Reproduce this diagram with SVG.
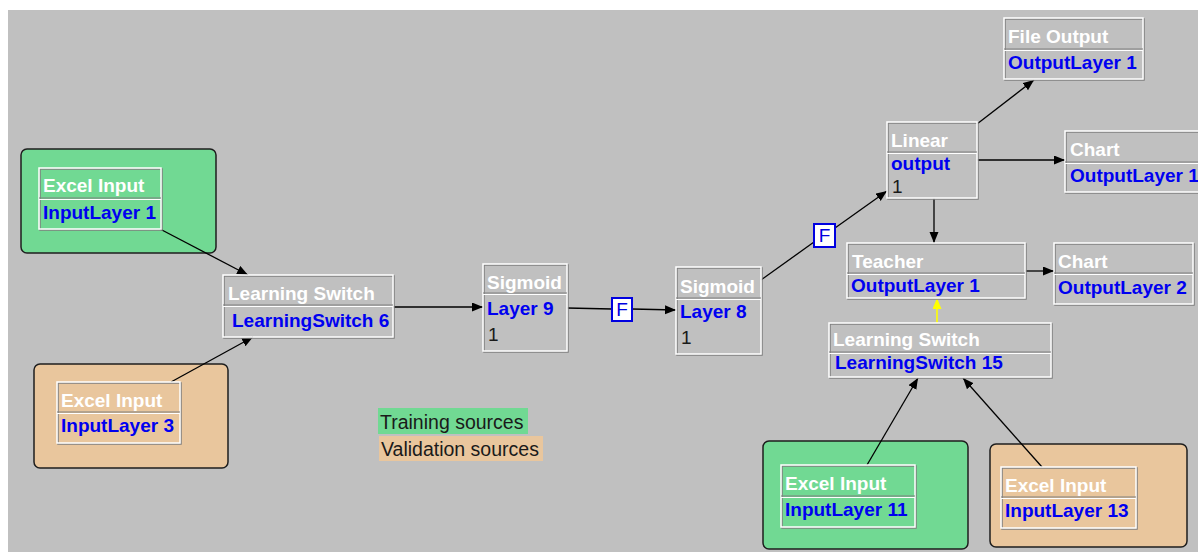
<svg xmlns="http://www.w3.org/2000/svg" width="1198" height="552" viewBox="0 0 1198 552">
  <style>
    text { font-family: "Liberation Sans", Arial, sans-serif; }
    .canvas { fill: #c0c0c0; }
    .train { fill: #71d993; stroke: #1e1e1e; stroke-width: 1.5; }
    .valid { fill: #e9c69d; stroke: #1e1e1e; stroke-width: 1.5; }
    .face { fill: none; stroke: #ffffff; stroke-width: 1.5; }
    .shadow { fill: none; stroke: #7f7f7f; stroke-width: 1.5; }
    .sep-d { stroke: #7f7f7f; stroke-width: 1.2; }
    .sep-l { stroke: #ffffff; stroke-width: 1.2; }
    .title { fill: #ffffff; font-size: 19px; font-weight: bold; }
    .name { fill: #0000f0; font-size: 19px; font-weight: bold; }
    .num { fill: #1a1a1a; font-size: 19px; }
    .legend { fill: #1a1a1a; font-size: 19.5px; }
    .wire { fill: none; stroke: #000000; stroke-width: 1.3; }
    .wire-y { fill: none; stroke: #ffff00; stroke-width: 1.6; }
    .fbox { fill: #ffffff; stroke: #0000e0; stroke-width: 2; }
    .flabel { fill: #0000e0; font-size: 19px; text-anchor: middle; }
  </style>
  <defs>
    <marker id="arrow" markerUnits="userSpaceOnUse" markerWidth="12" markerHeight="10" refX="11" refY="4.5" orient="auto">
      <path d="M0,0 L11,4.5 L0,9 z" fill="#000000"/>
    </marker>
    <marker id="arrow-y" markerUnits="userSpaceOnUse" markerWidth="12" markerHeight="10" refX="11" refY="4.5" orient="auto">
      <path d="M0,0 L11,4.5 L0,9 z" fill="#ffff00"/>
    </marker>
  </defs>

  <!-- drawing canvas -->
  <rect x="0" y="0" width="1198" height="552" fill="#ffffff"/>
  <rect class="canvas" x="8" y="10" width="1190" height="542"/>

  <!-- source groupings -->
  <g id="group-training-1"><rect class="train" x="21" y="149" width="195" height="104" rx="6"/></g>
  <g id="group-validation-1"><rect class="valid" x="34" y="364" width="194" height="104" rx="6"/></g>
  <g id="group-training-2"><rect class="train" x="763" y="441" width="205" height="108" rx="6"/></g>
  <g id="group-validation-2"><rect class="valid" x="990" y="444" width="197" height="103" rx="6"/></g>

  <!-- legend -->
  <g id="legend">
    <rect x="378" y="408" width="150" height="26" fill="#71d993"/>
    <text class="legend" x="380" y="429">Training sources</text>
    <rect x="379" y="436" width="164" height="25" fill="#e9c69d"/>
    <text class="legend" x="381" y="456">Validation sources</text>
  </g>

  <!-- connectors -->
  <g id="connectors">
    <path class="wire" d="M160,229 L248,275" marker-end="url(#arrow)"/>
    <path class="wire" d="M171,382 L253,337" marker-end="url(#arrow)"/>
    <path class="wire" d="M393,307 L483,307" marker-end="url(#arrow)"/>
    <path class="wire" d="M567,308 L612,309"/>
    <path class="wire" d="M632,309 L676,310" marker-end="url(#arrow)"/>
    <path class="wire" d="M761,280 L814,242"/>
    <path class="wire" d="M835,228 L887,191" marker-end="url(#arrow)"/>
    <path class="wire" d="M977,124 L1034,80" marker-end="url(#arrow)"/>
    <path class="wire" d="M977,160 L1065,160" marker-end="url(#arrow)"/>
    <path class="wire" d="M934,198 L934,243" marker-end="url(#arrow)"/>
    <path class="wire" d="M1025,271 L1054,271" marker-end="url(#arrow)"/>
    <path class="wire-y" d="M937,323 L937,298" marker-end="url(#arrow-y)"/>
    <path class="wire" d="M867,465 L918,378" marker-end="url(#arrow)"/>
    <path class="wire" d="M1042,467 L963,378" marker-end="url(#arrow)"/>
    <!-- synapse markers -->
    <rect class="fbox" x="612" y="298" width="20" height="23"/>
    <text class="flabel" x="622" y="316">F</text>
    <rect class="fbox" x="814" y="224" width="21" height="23"/>
    <text class="flabel" x="824.5" y="242">F</text>
  </g>

  <!-- nodes -->
  <g id="excel-input-1">
    <rect class="shadow" x="40" y="169" width="122" height="61"/>
    <rect class="face" x="39" y="168" width="122" height="61"/>
    <line class="sep-d" x1="39" y1="198" x2="161" y2="198"/><line class="sep-l" x1="39" y1="199.5" x2="161" y2="199.5"/>
    <text class="title" x="43" y="192">Excel Input</text>
    <text class="name" x="43" y="219">InputLayer 1</text>
  </g>
  <g id="excel-input-3">
    <rect class="shadow" x="58" y="383" width="123" height="61"/>
    <rect class="face" x="57" y="382" width="123" height="61"/>
    <line class="sep-d" x1="57" y1="412" x2="180" y2="412"/><line class="sep-l" x1="57" y1="413.5" x2="180" y2="413.5"/>
    <text class="title" x="61" y="407">Excel Input</text>
    <text class="name" x="61" y="432">InputLayer 3</text>
  </g>
  <g id="learning-switch-6">
    <rect class="shadow" x="224" y="276" width="170" height="62"/>
    <rect class="face" x="223" y="275" width="170" height="62"/>
    <line class="sep-d" x1="223" y1="305" x2="393" y2="305"/><line class="sep-l" x1="223" y1="306.5" x2="393" y2="306.5"/>
    <text class="title" x="228" y="300">Learning Switch</text>
    <text class="name" x="232" y="327">LearningSwitch 6</text>
  </g>
  <g id="sigmoid-layer-9">
    <rect class="shadow" x="484" y="265" width="84" height="87"/>
    <rect class="face" x="483" y="264" width="84" height="87"/>
    <line class="sep-d" x1="483" y1="293" x2="567" y2="293"/><line class="sep-l" x1="483" y1="294.5" x2="567" y2="294.5"/>
    <text class="title" x="487" y="289">Sigmoid</text>
    <text class="name" x="487" y="315">Layer 9</text>
    <text class="num" x="488" y="341">1</text>
  </g>
  <g id="sigmoid-layer-8">
    <rect class="shadow" x="677" y="268" width="85" height="87"/>
    <rect class="face" x="676" y="267" width="85" height="87"/>
    <line class="sep-d" x1="676" y1="298" x2="761" y2="298"/><line class="sep-l" x1="676" y1="299.5" x2="761" y2="299.5"/>
    <text class="title" x="680" y="293">Sigmoid</text>
    <text class="name" x="680" y="318">Layer 8</text>
    <text class="num" x="681" y="344">1</text>
  </g>
  <g id="linear-output">
    <rect class="shadow" x="888" y="123" width="90" height="76"/>
    <rect class="face" x="887" y="122" width="90" height="76"/>
    <line class="sep-d" x1="887" y1="152" x2="977" y2="152"/><line class="sep-l" x1="887" y1="153.5" x2="977" y2="153.5"/>
    <text class="title" x="891" y="147">Linear</text>
    <text class="name" x="891" y="170">output</text>
    <text class="num" x="892" y="193">1</text>
  </g>
  <g id="file-output">
    <rect class="shadow" x="1005" y="19" width="139" height="61"/>
    <rect class="face" x="1004" y="18" width="139" height="61"/>
    <line class="sep-d" x1="1004" y1="49" x2="1143" y2="49"/><line class="sep-l" x1="1004" y1="50.5" x2="1143" y2="50.5"/>
    <text class="title" x="1008" y="43">File Output</text>
    <text class="name" x="1008" y="69">OutputLayer 1</text>
  </g>
  <g id="chart-1">
    <rect class="shadow" x="1066" y="132" width="145" height="61"/>
    <rect class="face" x="1065" y="131" width="145" height="61"/>
    <line class="sep-d" x1="1065" y1="162" x2="1210" y2="162"/><line class="sep-l" x1="1065" y1="163.5" x2="1210" y2="163.5"/>
    <text class="title" x="1070" y="156">Chart</text>
    <text class="name" x="1070" y="182">OutputLayer 1</text>
  </g>
  <g id="teacher">
    <rect class="shadow" x="848" y="244" width="178" height="55"/>
    <rect class="face" x="847" y="243" width="178" height="55"/>
    <line class="sep-d" x1="847" y1="273" x2="1025" y2="273"/><line class="sep-l" x1="847" y1="274.5" x2="1025" y2="274.5"/>
    <text class="title" x="852" y="268">Teacher</text>
    <text class="name" x="851" y="292">OutputLayer 1</text>
  </g>
  <g id="chart-2">
    <rect class="shadow" x="1055" y="244" width="139" height="61"/>
    <rect class="face" x="1054" y="243" width="139" height="61"/>
    <line class="sep-d" x1="1054" y1="273" x2="1193" y2="273"/><line class="sep-l" x1="1054" y1="274.5" x2="1193" y2="274.5"/>
    <text class="title" x="1058" y="268">Chart</text>
    <text class="name" x="1058" y="294">OutputLayer 2</text>
  </g>
  <g id="learning-switch-15">
    <rect class="shadow" x="830" y="324" width="222" height="54"/>
    <rect class="face" x="829" y="323" width="222" height="54"/>
    <line class="sep-d" x1="829" y1="352" x2="1051" y2="352"/><line class="sep-l" x1="829" y1="353.5" x2="1051" y2="353.5"/>
    <text class="title" x="833" y="346">Learning Switch</text>
    <text class="name" x="835" y="369">LearningSwitch 15</text>
  </g>
  <g id="excel-input-11">
    <rect class="shadow" x="782" y="466" width="134" height="62"/>
    <rect class="face" x="781" y="465" width="134" height="62"/>
    <line class="sep-d" x1="781" y1="496" x2="915" y2="496"/><line class="sep-l" x1="781" y1="497.5" x2="915" y2="497.5"/>
    <text class="title" x="785" y="490">Excel Input</text>
    <text class="name" x="785" y="516">InputLayer 11</text>
  </g>
  <g id="excel-input-13">
    <rect class="shadow" x="1002" y="468" width="135" height="61"/>
    <rect class="face" x="1001" y="467" width="135" height="61"/>
    <line class="sep-d" x1="1001" y1="497" x2="1136" y2="497"/><line class="sep-l" x1="1001" y1="498.5" x2="1136" y2="498.5"/>
    <text class="title" x="1005" y="492">Excel Input</text>
    <text class="name" x="1005" y="517">InputLayer 13</text>
  </g>
</svg>
